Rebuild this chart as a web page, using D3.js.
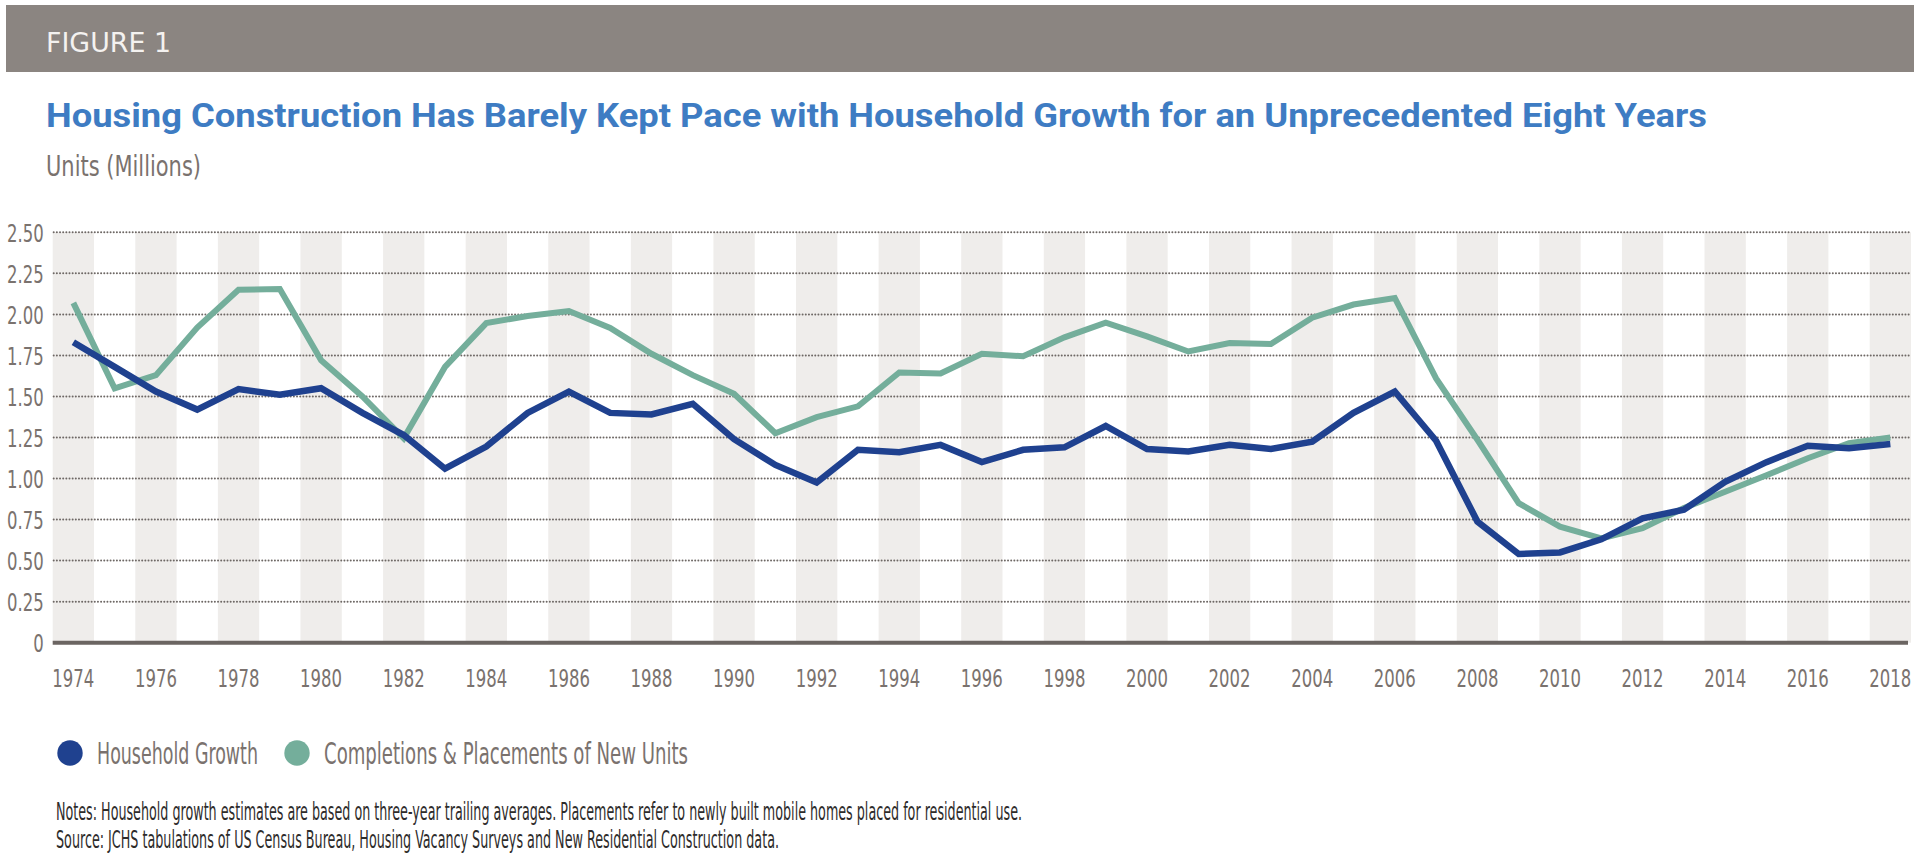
<!DOCTYPE html>
<html>
<head>
<meta charset="utf-8">
<script src="https://cdn.jsdelivr.net/npm/d3@7"></script>
<style>
  body { margin: 0; background: #fff; }
  svg { display: block; }
  .narrow { font-family: "Liberation Sans Narrow", "DejaVu Sans Condensed", "Roboto", sans-serif; }
</style>
</head>
<body>
<div id="chart"></div>
<script>
// Data (millions of units)
const years = d3.range(1974, 2019);
const householdGrowth = [
  1.83, 1.68, 1.53, 1.42, 1.545, 1.51, 1.55, 1.40, 1.265, 1.06,
  1.195, 1.40, 1.53, 1.40, 1.39, 1.455, 1.24, 1.083, 0.976, 1.175,
  1.16, 1.205, 1.10, 1.175, 1.19, 1.32, 1.18, 1.165, 1.205, 1.18,
  1.225, 1.40, 1.53, 1.23, 0.738, 0.54, 0.55, 0.63, 0.758, 0.81,
  0.98, 1.10, 1.20, 1.185, 1.21
];
const completions = [
  2.07, 1.55, 1.63, 1.92, 2.15, 2.155, 1.72, 1.50, 1.245, 1.68,
  1.947, 1.99, 2.02, 1.917, 1.76, 1.63, 1.516, 1.276, 1.374, 1.44,
  1.646, 1.64, 1.76, 1.745, 1.86, 1.95, 1.866, 1.774, 1.825, 1.82,
  1.98, 2.06, 2.10, 1.61, 1.236, 0.85, 0.707, 0.636, 0.697, 0.82,
  0.92, 1.02, 1.124, 1.215, 1.25
];
const yTicks = [0, 0.25, 0.5, 0.75, 1, 1.25, 1.5, 1.75, 2, 2.25, 2.5];
const xTicks = years.filter(y => y % 2 === 0);
const seriesNames = ["Household Growth", "Completions & Placements of New Units"];

const W = 1920, H = 858;
const plot = { left: 52.7, right: 1911, top: 232.3, bottom: 642.7 };
const colors = { household: "#1f418f", completions: "#74ae9b" };
const textGray = "#7a726e";

const svg = d3.select("#chart").append("svg")
    .attr("width", W)
    .attr("height", H);

// squeeze texts horizontally (the original uses a condensed face)
function condense(sel, ratio) {
    sel.each(function() {
        const len = this.getComputedTextLength();
        d3.select(this)
            .attr("textLength", len * ratio)
            .attr("lengthAdjust", "spacingAndGlyphs");
    });
}

// Header band
svg.append("rect")
    .attr("x", 6).attr("y", 5)
    .attr("width", 1908).attr("height", 67)
    .attr("fill", "#8b8581");

svg.append("text")
    .attr("class", "narrow")
    .attr("x", 46).attr("y", 52)
    .attr("font-size", 27)
    .attr("fill", "#f4f2f0")
    .attr("textLength", 125)
    .attr("lengthAdjust", "spacingAndGlyphs")
    .text("FIGURE 1");

svg.append("text")
    .attr("x", 46).attr("y", 127)
    .attr("font-family", "Roboto, 'Noto Sans', sans-serif")
    .attr("font-weight", 700)
    .attr("font-size", 34)
    .attr("fill", "#3e7cc3")
    .attr("textLength", 1661)
    .attr("lengthAdjust", "spacingAndGlyphs")
    .text("Housing Construction Has Barely Kept Pace with Household Growth for an Unprecedented Eight Years");

svg.append("text")
    .attr("class", "narrow")
    .attr("x", 46).attr("y", 176)
    .attr("font-size", 28)
    .attr("fill", textGray)
    .attr("textLength", 155)
    .attr("lengthAdjust", "spacingAndGlyphs")
    .text("Units (Millions)");

// Scales
const x = d3.scaleBand()
    .domain(years)
    .range([plot.left, plot.right])
    .padding(0);

const y = d3.scaleLinear()
    .domain([0, 2.5])
    .range([plot.bottom, plot.top]);

const cx = d => x(d) + x.bandwidth() / 2;

// Alternating year stripes
svg.append("g")
    .selectAll("rect")
    .data(years.filter(yr => yr % 2 === 0))
    .enter().append("rect")
    .attr("x", d => x(d))
    .attr("y", y(2.5))
    .attr("width", x.bandwidth())
    .attr("height", y(0) - y(2.5))
    .attr("fill", "#efedeb");

// Dotted gridlines
svg.append("g")
    .selectAll("line")
    .data(yTicks.filter(t => t > 0))
    .enter().append("line")
    .attr("x1", plot.left + 1)
    .attr("x2", plot.right)
    .attr("y1", d => y(d))
    .attr("y2", d => y(d))
    .attr("stroke", "#6e6865")
    .attr("stroke-width", 2)
    .attr("stroke-linecap", "round")
    .attr("stroke-dasharray", "0.01,3.15");

// X axis labels
const xAxis = svg.append("g")
    .attr("transform", "translate(0," + plot.bottom + ")")
    .call(d3.axisBottom(x)
        .tickValues(xTicks)
        .tickSize(0)
        .tickPadding(0));
xAxis.select(".domain").remove();
const xLabels = xAxis.selectAll("text")
    .attr("class", "narrow")
    .attr("font-size", 25)
    .attr("fill", textGray)
    .attr("y", 44)
    .attr("dy", 0);

// one ratio for all tick labels, so "1974" comes out ~42px wide
const tickRatio = 42 / xLabels.node().getComputedTextLength();
condense(xLabels, tickRatio);

// Y axis labels
const yAxis = svg.append("g")
    .attr("transform", "translate(" + plot.left + ",0)")
    .call(d3.axisLeft(y)
        .tickValues(yTicks)
        .tickSize(0)
        .tickPadding(9)
        .tickFormat(d => d === 0 ? "0" : d.toFixed(2)));
yAxis.select(".domain").remove();
const yLabels = yAxis.selectAll("text")
    .attr("class", "narrow")
    .attr("font-size", 25)
    .attr("fill", textGray)
    .attr("dy", "0.36em");
condense(yLabels, tickRatio);

// Zero baseline
svg.append("line")
    .attr("x1", plot.left)
    .attr("x2", plot.right - 3)
    .attr("y1", y(0))
    .attr("y2", y(0))
    .attr("stroke", "#6b6562")
    .attr("stroke-width", 4);

// Lines
const line = d3.line()
    .x((d, i) => cx(years[i]))
    .y(d => y(d));

svg.append("path")
    .datum(completions)
    .attr("fill", "none")
    .attr("stroke", colors.completions)
    .attr("stroke-width", 6)
    .attr("d", line);

svg.append("path")
    .datum(householdGrowth)
    .attr("fill", "none")
    .attr("stroke", colors.household)
    .attr("stroke-width", 6.5)
    .attr("d", line);

// Legend
const legendItems = [
    { name: seriesNames[0], color: colors.household, cx: 70, tx: 97, len: 161 },
    { name: seriesNames[1], color: colors.completions, cx: 297, tx: 324, len: 364 }
];
const legend = svg.append("g")
    .selectAll("g")
    .data(legendItems)
    .enter().append("g");

legend.append("circle")
    .attr("cx", d => d.cx)
    .attr("cy", 753)
    .attr("r", 12.7)
    .attr("fill", d => d.color);

legend.append("text")
    .attr("class", "narrow")
    .attr("x", d => d.tx)
    .attr("y", 764)
    .attr("font-size", 30)
    .attr("fill", textGray)
    .attr("textLength", d => d.len)
    .attr("lengthAdjust", "spacingAndGlyphs")
    .text(d => d.name);

// Notes
svg.append("text")
    .attr("class", "narrow")
    .attr("x", 56).attr("y", 820)
    .attr("font-size", 24)
    .attr("fill", "#2e2c2b")
    .attr("textLength", 966)
    .attr("lengthAdjust", "spacingAndGlyphs")
    .text("Notes: Household growth estimates are based on three-year trailing averages. Placements refer to newly built mobile homes placed for residential use.");

svg.append("text")
    .attr("class", "narrow")
    .attr("x", 56).attr("y", 848)
    .attr("font-size", 24)
    .attr("fill", "#2e2c2b")
    .attr("textLength", 723)
    .attr("lengthAdjust", "spacingAndGlyphs")
    .text("Source: JCHS tabulations of US Census Bureau, Housing Vacancy Surveys and New Residential Construction data.");
</script>
</body>
</html>
